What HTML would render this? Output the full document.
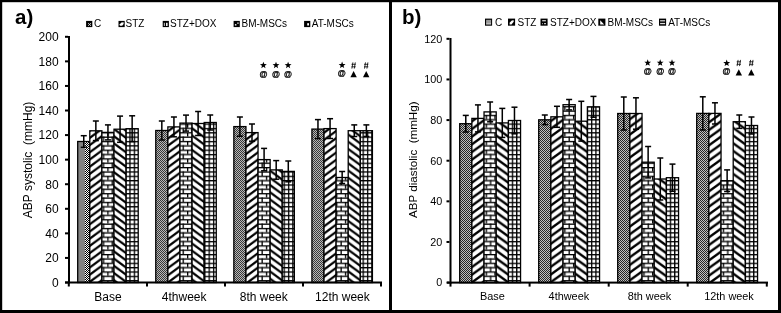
<!DOCTYPE html><html><head><meta charset="utf-8"><style>html,body{margin:0;padding:0;background:#fff;}svg{display:block;filter:grayscale(1);}text{font-family:"Liberation Sans", sans-serif;}</style></head><body>
<svg width="781" height="313" viewBox="0 0 781 313">

<defs>
<pattern id="chk" x="0" y="0" width="2" height="2" patternUnits="userSpaceOnUse">
  <rect width="2" height="2" fill="#fff"/><rect width="1" height="1" fill="#000"/><rect x="1" y="1" width="1" height="1" fill="#000"/>
</pattern>
<pattern id="chk3" x="0" y="0" width="2" height="2" patternUnits="userSpaceOnUse">
  <rect width="2" height="2" fill="#c0c0c0"/><rect width="1" height="1" fill="#262626"/><rect x="1" y="1" width="1" height="1" fill="#262626"/>
</pattern>
<pattern id="chk2" x="0" y="0" width="2" height="2" patternUnits="userSpaceOnUse">
  <rect width="2" height="2" fill="#b8b8b8"/><rect width="1" height="1" fill="#383838"/><rect x="1" y="1" width="1" height="1" fill="#383838"/>
</pattern>
<pattern id="up" x="0" y="0" width="8.5" height="7.2" patternUnits="userSpaceOnUse">
  <rect width="8.5" height="7.2" fill="#fff"/>
  <polygon points="0.00,0.00 8.50,-7.20 8.50,-4.30 0.00,2.90" fill="#000"/><polygon points="0.00,7.20 8.50,0.00 8.50,2.90 0.00,10.10" fill="#000"/>
</pattern>
<pattern id="dn" x="0" y="0" width="8.5" height="7.2" patternUnits="userSpaceOnUse">
  <rect width="8.5" height="7.2" fill="#fff"/>
  <polygon points="0.00,-7.20 8.50,0.00 8.50,2.90 0.00,-4.30" fill="#000"/><polygon points="0.00,0.00 8.50,7.20 8.50,10.10 0.00,2.90" fill="#000"/>
</pattern>
<pattern id="brick" x="0" y="0" width="8.7" height="8.7" patternUnits="userSpaceOnUse">
  <rect width="8.7" height="8.7" fill="#fff"/>
  <rect x="0" y="0" width="8.7" height="1.3" fill="#000"/>
  <rect x="0" y="4.35" width="8.7" height="1.3" fill="#000"/>
  <rect x="0" y="0" width="1.3" height="4.35" fill="#000"/>
  <rect x="4.35" y="4.35" width="1.3" height="4.35" fill="#000"/>
</pattern>
<pattern id="grid" x="0" y="0" width="4.35" height="4.35" patternUnits="userSpaceOnUse">
  <rect width="4.35" height="4.35" fill="#fff"/>
  <rect x="0" y="0" width="4.35" height="1.3" fill="#000"/>
  <rect x="0" y="0" width="1.3" height="4.35" fill="#000"/>
</pattern>
</defs>

<rect width="781" height="313" fill="#fff"/>
<defs><pattern id="up00" x="95.850" y="198.200" width="9.7035" height="7.2000" patternUnits="userSpaceOnUse"><rect width="9.7035" height="7.2000" fill="#fff"/><polygon points="0.00,-1.38 9.70,-8.57 9.70,-5.83 0.00,1.37" fill="#000"/><polygon points="0.00,5.83 9.70,-1.38 9.70,1.38 0.00,8.57" fill="#000"/><polygon points="0.00,13.03 9.70,5.83 9.70,8.57 0.00,15.77" fill="#000"/></pattern><pattern id="dn00" x="120.050" y="205.500" width="9.7035" height="7.2000" patternUnits="userSpaceOnUse"><rect width="9.7035" height="7.2000" fill="#fff"/><polygon points="0.00,-8.57 9.70,-1.38 9.70,1.37 0.00,-5.83" fill="#000"/><polygon points="0.00,-1.38 9.70,5.83 9.70,8.57 0.00,1.38" fill="#000"/><polygon points="0.00,5.83 9.70,13.03 9.70,15.77 0.00,8.57" fill="#000"/></pattern><pattern id="br00" x="107.300" y="1.7" width="8.7" height="8.7" patternUnits="userSpaceOnUse"><rect width="8.7" height="8.7" fill="#fff"/><rect x="0" y="0" width="8.7" height="1.3" fill="#000"/><rect x="0" y="4.35" width="8.7" height="1.3" fill="#000"/><rect x="0" y="0" width="1.3" height="4.35" fill="#000"/><rect x="4.35" y="4.35" width="1.3" height="4.35" fill="#000"/></pattern><pattern id="gr00" x="129.350" y="1.7" width="4.35" height="4.35" patternUnits="userSpaceOnUse"><rect width="4.35" height="4.35" fill="#fff"/><rect x="0" y="0" width="4.35" height="1.3" fill="#000"/><rect x="0" y="0" width="1.3" height="4.35" fill="#000"/></pattern><pattern id="up01" x="173.920" y="198.900" width="9.7035" height="7.2000" patternUnits="userSpaceOnUse"><rect width="9.7035" height="7.2000" fill="#fff"/><polygon points="0.00,-1.38 9.70,-8.57 9.70,-5.83 0.00,1.37" fill="#000"/><polygon points="0.00,5.83 9.70,-1.38 9.70,1.38 0.00,8.57" fill="#000"/><polygon points="0.00,13.03 9.70,5.83 9.70,8.57 0.00,15.77" fill="#000"/></pattern><pattern id="dn01" x="198.120" y="204.800" width="9.7035" height="7.2000" patternUnits="userSpaceOnUse"><rect width="9.7035" height="7.2000" fill="#fff"/><polygon points="0.00,-8.57 9.70,-1.38 9.70,1.37 0.00,-5.83" fill="#000"/><polygon points="0.00,-1.38 9.70,5.83 9.70,8.57 0.00,1.38" fill="#000"/><polygon points="0.00,5.83 9.70,13.03 9.70,15.77 0.00,8.57" fill="#000"/></pattern><pattern id="br01" x="187.000" y="1.7" width="8.7" height="8.7" patternUnits="userSpaceOnUse"><rect width="8.7" height="8.7" fill="#fff"/><rect x="0" y="0" width="8.7" height="1.3" fill="#000"/><rect x="0" y="4.35" width="8.7" height="1.3" fill="#000"/><rect x="0" y="0" width="1.3" height="4.35" fill="#000"/><rect x="4.35" y="4.35" width="1.3" height="4.35" fill="#000"/></pattern><pattern id="gr01" x="208.550" y="1.7" width="4.35" height="4.35" patternUnits="userSpaceOnUse"><rect width="4.35" height="4.35" fill="#fff"/><rect x="0" y="0" width="4.35" height="1.3" fill="#000"/><rect x="0" y="0" width="1.3" height="4.35" fill="#000"/></pattern><pattern id="up02" x="251.990" y="200.000" width="9.7035" height="7.2000" patternUnits="userSpaceOnUse"><rect width="9.7035" height="7.2000" fill="#fff"/><polygon points="0.00,-1.38 9.70,-8.57 9.70,-5.83 0.00,1.37" fill="#000"/><polygon points="0.00,5.83 9.70,-1.38 9.70,1.38 0.00,8.57" fill="#000"/><polygon points="0.00,13.03 9.70,5.83 9.70,8.57 0.00,15.77" fill="#000"/></pattern><pattern id="dn02" x="276.190" y="204.000" width="9.7035" height="7.2000" patternUnits="userSpaceOnUse"><rect width="9.7035" height="7.2000" fill="#fff"/><polygon points="0.00,-8.57 9.70,-1.38 9.70,1.37 0.00,-5.83" fill="#000"/><polygon points="0.00,-1.38 9.70,5.83 9.70,8.57 0.00,1.38" fill="#000"/><polygon points="0.00,5.83 9.70,13.03 9.70,15.77 0.00,8.57" fill="#000"/></pattern><pattern id="br02" x="265.850" y="1.7" width="8.7" height="8.7" patternUnits="userSpaceOnUse"><rect width="8.7" height="8.7" fill="#fff"/><rect x="0" y="0" width="8.7" height="1.3" fill="#000"/><rect x="0" y="4.35" width="8.7" height="1.3" fill="#000"/><rect x="0" y="0" width="1.3" height="4.35" fill="#000"/><rect x="4.35" y="4.35" width="1.3" height="4.35" fill="#000"/></pattern><pattern id="gr02" x="283.550" y="1.7" width="4.35" height="4.35" patternUnits="userSpaceOnUse"><rect width="4.35" height="4.35" fill="#fff"/><rect x="0" y="0" width="4.35" height="1.3" fill="#000"/><rect x="0" y="0" width="1.3" height="4.35" fill="#000"/></pattern><pattern id="up03" x="330.060" y="200.300" width="9.7035" height="7.2000" patternUnits="userSpaceOnUse"><rect width="9.7035" height="7.2000" fill="#fff"/><polygon points="0.00,-1.38 9.70,-8.57 9.70,-5.83 0.00,1.37" fill="#000"/><polygon points="0.00,5.83 9.70,-1.38 9.70,1.38 0.00,8.57" fill="#000"/><polygon points="0.00,13.03 9.70,5.83 9.70,8.57 0.00,15.77" fill="#000"/></pattern><pattern id="dn03" x="354.260" y="203.800" width="9.7035" height="7.2000" patternUnits="userSpaceOnUse"><rect width="9.7035" height="7.2000" fill="#fff"/><polygon points="0.00,-8.57 9.70,-1.38 9.70,1.37 0.00,-5.83" fill="#000"/><polygon points="0.00,-1.38 9.70,5.83 9.70,8.57 0.00,1.38" fill="#000"/><polygon points="0.00,5.83 9.70,13.03 9.70,15.77 0.00,8.57" fill="#000"/></pattern><pattern id="br03" x="344.850" y="1.7" width="8.7" height="8.7" patternUnits="userSpaceOnUse"><rect width="8.7" height="8.7" fill="#fff"/><rect x="0" y="0" width="8.7" height="1.3" fill="#000"/><rect x="0" y="4.35" width="8.7" height="1.3" fill="#000"/><rect x="0" y="0" width="1.3" height="4.35" fill="#000"/><rect x="4.35" y="4.35" width="1.3" height="4.35" fill="#000"/></pattern><pattern id="gr03" x="362.550" y="1.7" width="4.35" height="4.35" patternUnits="userSpaceOnUse"><rect width="4.35" height="4.35" fill="#fff"/><rect x="0" y="0" width="4.35" height="1.3" fill="#000"/><rect x="0" y="0" width="1.3" height="4.35" fill="#000"/></pattern><pattern id="up10" x="477.955" y="201.330" width="10.5068" height="7.6700" patternUnits="userSpaceOnUse"><rect width="10.5068" height="7.6700" fill="#fff"/><polygon points="0.00,-1.47 10.51,-9.14 10.51,-6.20 0.00,1.47" fill="#000"/><polygon points="0.00,6.20 10.51,-1.48 10.51,1.48 0.00,9.14" fill="#000"/><polygon points="0.00,13.87 10.51,6.20 10.51,9.14 0.00,16.81" fill="#000"/></pattern><pattern id="dn10" x="502.295" y="209.000" width="10.5068" height="7.6700" patternUnits="userSpaceOnUse"><rect width="10.5068" height="7.6700" fill="#fff"/><polygon points="0.00,-9.14 10.51,-1.47 10.51,1.47 0.00,-6.20" fill="#000"/><polygon points="0.00,-1.48 10.51,6.20 10.51,9.14 0.00,1.48" fill="#000"/><polygon points="0.00,6.20 10.51,13.87 10.51,16.81 0.00,9.14" fill="#000"/></pattern><pattern id="br10" x="485.650" y="1.7" width="8.7" height="8.7" patternUnits="userSpaceOnUse"><rect width="8.7" height="8.7" fill="#fff"/><rect x="0" y="0" width="8.7" height="1.3" fill="#000"/><rect x="0" y="4.35" width="8.7" height="1.3" fill="#000"/><rect x="0" y="0" width="1.3" height="4.35" fill="#000"/><rect x="4.35" y="4.35" width="1.3" height="4.35" fill="#000"/></pattern><pattern id="gr10" x="511.750" y="1.7" width="4.35" height="4.35" patternUnits="userSpaceOnUse"><rect width="4.35" height="4.35" fill="#fff"/><rect x="0" y="0" width="4.35" height="1.3" fill="#000"/><rect x="0" y="0" width="1.3" height="4.35" fill="#000"/></pattern><pattern id="up11" x="556.955" y="201.030" width="10.5068" height="7.6700" patternUnits="userSpaceOnUse"><rect width="10.5068" height="7.6700" fill="#fff"/><polygon points="0.00,-1.47 10.51,-9.14 10.51,-6.20 0.00,1.47" fill="#000"/><polygon points="0.00,6.20 10.51,-1.48 10.51,1.48 0.00,9.14" fill="#000"/><polygon points="0.00,13.87 10.51,6.20 10.51,9.14 0.00,16.81" fill="#000"/></pattern><pattern id="dn11" x="581.295" y="209.000" width="10.5068" height="7.6700" patternUnits="userSpaceOnUse"><rect width="10.5068" height="7.6700" fill="#fff"/><polygon points="0.00,-9.14 10.51,-1.47 10.51,1.47 0.00,-6.20" fill="#000"/><polygon points="0.00,-1.48 10.51,6.20 10.51,9.14 0.00,1.48" fill="#000"/><polygon points="0.00,6.20 10.51,13.87 10.51,16.81 0.00,9.14" fill="#000"/></pattern><pattern id="br11" x="564.250" y="1.7" width="8.7" height="8.7" patternUnits="userSpaceOnUse"><rect width="8.7" height="8.7" fill="#fff"/><rect x="0" y="0" width="8.7" height="1.3" fill="#000"/><rect x="0" y="4.35" width="8.7" height="1.3" fill="#000"/><rect x="0" y="0" width="1.3" height="4.35" fill="#000"/><rect x="4.35" y="4.35" width="1.3" height="4.35" fill="#000"/></pattern><pattern id="gr11" x="590.950" y="1.7" width="4.35" height="4.35" patternUnits="userSpaceOnUse"><rect width="4.35" height="4.35" fill="#fff"/><rect x="0" y="0" width="4.35" height="1.3" fill="#000"/><rect x="0" y="0" width="1.3" height="4.35" fill="#000"/></pattern><pattern id="up12" x="635.955" y="199.130" width="10.5068" height="7.6700" patternUnits="userSpaceOnUse"><rect width="10.5068" height="7.6700" fill="#fff"/><polygon points="0.00,-1.47 10.51,-9.14 10.51,-6.20 0.00,1.47" fill="#000"/><polygon points="0.00,6.20 10.51,-1.48 10.51,1.48 0.00,9.14" fill="#000"/><polygon points="0.00,13.87 10.51,6.20 10.51,9.14 0.00,16.81" fill="#000"/></pattern><pattern id="dn12" x="660.295" y="210.400" width="10.5068" height="7.6700" patternUnits="userSpaceOnUse"><rect width="10.5068" height="7.6700" fill="#fff"/><polygon points="0.00,-9.14 10.51,-1.47 10.51,1.47 0.00,-6.20" fill="#000"/><polygon points="0.00,-1.48 10.51,6.20 10.51,9.14 0.00,1.48" fill="#000"/><polygon points="0.00,6.20 10.51,13.87 10.51,16.81 0.00,9.14" fill="#000"/></pattern><pattern id="br12" x="643.350" y="1.7" width="8.7" height="8.7" patternUnits="userSpaceOnUse"><rect width="8.7" height="8.7" fill="#fff"/><rect x="0" y="0" width="8.7" height="1.3" fill="#000"/><rect x="0" y="4.35" width="8.7" height="1.3" fill="#000"/><rect x="0" y="0" width="1.3" height="4.35" fill="#000"/><rect x="4.35" y="4.35" width="1.3" height="4.35" fill="#000"/></pattern><pattern id="gr12" x="669.750" y="1.7" width="4.35" height="4.35" patternUnits="userSpaceOnUse"><rect width="4.35" height="4.35" fill="#fff"/><rect x="0" y="0" width="4.35" height="1.3" fill="#000"/><rect x="0" y="0" width="1.3" height="4.35" fill="#000"/></pattern><pattern id="up13" x="714.955" y="202.330" width="10.5068" height="7.6700" patternUnits="userSpaceOnUse"><rect width="10.5068" height="7.6700" fill="#fff"/><polygon points="0.00,-1.47 10.51,-9.14 10.51,-6.20 0.00,1.47" fill="#000"/><polygon points="0.00,6.20 10.51,-1.48 10.51,1.48 0.00,9.14" fill="#000"/><polygon points="0.00,13.87 10.51,6.20 10.51,9.14 0.00,16.81" fill="#000"/></pattern><pattern id="dn13" x="739.295" y="209.000" width="10.5068" height="7.6700" patternUnits="userSpaceOnUse"><rect width="10.5068" height="7.6700" fill="#fff"/><polygon points="0.00,-9.14 10.51,-1.47 10.51,1.47 0.00,-6.20" fill="#000"/><polygon points="0.00,-1.48 10.51,6.20 10.51,9.14 0.00,1.48" fill="#000"/><polygon points="0.00,6.20 10.51,13.87 10.51,16.81 0.00,9.14" fill="#000"/></pattern><pattern id="br13" x="722.750" y="1.7" width="8.7" height="8.7" patternUnits="userSpaceOnUse"><rect width="8.7" height="8.7" fill="#fff"/><rect x="0" y="0" width="8.7" height="1.3" fill="#000"/><rect x="0" y="4.35" width="8.7" height="1.3" fill="#000"/><rect x="0" y="0" width="1.3" height="4.35" fill="#000"/><rect x="4.35" y="4.35" width="1.3" height="4.35" fill="#000"/></pattern><pattern id="gr13" x="748.750" y="1.7" width="4.35" height="4.35" patternUnits="userSpaceOnUse"><rect width="4.35" height="4.35" fill="#fff"/><rect x="0" y="0" width="4.35" height="1.3" fill="#000"/><rect x="0" y="0" width="1.3" height="4.35" fill="#000"/></pattern></defs>
<rect x="77.70" y="141.50" width="12.10" height="141.00" fill="#828282"/>
<rect x="85.00" y="141.50" width="4.80" height="141.00" fill="url(#chk)"/>
<rect x="77.70" y="141.50" width="12.10" height="141.00" fill="none" stroke="#000" stroke-width="1.3"/>
<rect x="89.80" y="130.80" width="12.10" height="151.70" fill="url(#up00)"/>
<rect x="89.80" y="130.80" width="12.10" height="151.70" fill="none" stroke="#000" stroke-width="1.3"/>
<rect x="101.90" y="132.40" width="12.10" height="150.10" fill="url(#br00)"/>
<rect x="101.90" y="132.40" width="12.10" height="150.10" fill="none" stroke="#000" stroke-width="1.3"/>
<rect x="114.00" y="129.20" width="12.10" height="153.30" fill="url(#dn00)"/>
<rect x="114.00" y="129.20" width="12.10" height="153.30" fill="none" stroke="#000" stroke-width="1.3"/>
<rect x="126.10" y="128.70" width="12.10" height="153.80" fill="url(#gr00)"/>
<rect x="126.10" y="128.70" width="12.10" height="153.80" fill="none" stroke="#000" stroke-width="1.3"/>
<rect x="155.77" y="130.50" width="12.10" height="152.00" fill="url(#chk2)"/>
<rect x="155.77" y="130.50" width="12.10" height="152.00" fill="none" stroke="#000" stroke-width="1.3"/>
<rect x="167.87" y="126.90" width="12.10" height="155.60" fill="url(#up01)"/>
<rect x="167.87" y="126.90" width="12.10" height="155.60" fill="none" stroke="#000" stroke-width="1.3"/>
<rect x="179.97" y="123.10" width="12.10" height="159.40" fill="url(#br01)"/>
<rect x="179.97" y="123.10" width="12.10" height="159.40" fill="none" stroke="#000" stroke-width="1.3"/>
<rect x="192.07" y="123.50" width="12.10" height="159.00" fill="url(#dn01)"/>
<rect x="192.07" y="123.50" width="12.10" height="159.00" fill="none" stroke="#000" stroke-width="1.3"/>
<rect x="204.17" y="122.50" width="12.10" height="160.00" fill="url(#gr01)"/>
<rect x="204.17" y="122.50" width="12.10" height="160.00" fill="none" stroke="#000" stroke-width="1.3"/>
<rect x="233.84" y="126.60" width="12.10" height="155.90" fill="url(#chk2)"/>
<rect x="233.84" y="126.60" width="12.10" height="155.90" fill="none" stroke="#000" stroke-width="1.3"/>
<rect x="245.94" y="132.60" width="12.10" height="149.90" fill="url(#up02)"/>
<rect x="245.94" y="132.60" width="12.10" height="149.90" fill="none" stroke="#000" stroke-width="1.3"/>
<rect x="258.04" y="159.60" width="12.10" height="122.90" fill="url(#br02)"/>
<rect x="258.04" y="159.60" width="12.10" height="122.90" fill="none" stroke="#000" stroke-width="1.3"/>
<rect x="270.14" y="169.90" width="12.10" height="112.60" fill="url(#dn02)"/>
<rect x="270.14" y="169.90" width="12.10" height="112.60" fill="none" stroke="#000" stroke-width="1.3"/>
<rect x="282.24" y="171.40" width="12.10" height="111.10" fill="url(#gr02)"/>
<rect x="282.24" y="171.40" width="12.10" height="111.10" fill="none" stroke="#000" stroke-width="1.3"/>
<rect x="311.91" y="129.10" width="12.10" height="153.40" fill="url(#chk2)"/>
<rect x="311.91" y="129.10" width="12.10" height="153.40" fill="none" stroke="#000" stroke-width="1.3"/>
<rect x="324.01" y="128.60" width="12.10" height="153.90" fill="url(#up03)"/>
<rect x="324.01" y="128.60" width="12.10" height="153.90" fill="none" stroke="#000" stroke-width="1.3"/>
<rect x="336.11" y="177.50" width="12.10" height="105.00" fill="url(#br03)"/>
<rect x="336.11" y="177.50" width="12.10" height="105.00" fill="none" stroke="#000" stroke-width="1.3"/>
<rect x="348.21" y="130.70" width="12.10" height="151.80" fill="url(#dn03)"/>
<rect x="348.21" y="130.70" width="12.10" height="151.80" fill="none" stroke="#000" stroke-width="1.3"/>
<rect x="360.31" y="130.70" width="12.10" height="151.80" fill="url(#gr03)"/>
<rect x="360.31" y="130.70" width="12.10" height="151.80" fill="none" stroke="#000" stroke-width="1.3"/>
<rect x="83.00" y="135.70" width="1.5" height="11.60" fill="#000"/>
<rect x="80.75" y="134.95" width="6" height="1.5" fill="#000"/>
<rect x="80.75" y="146.55" width="6" height="1.5" fill="#000"/>
<rect x="95.10" y="121.00" width="1.5" height="19.60" fill="#000"/>
<rect x="92.85" y="120.25" width="6" height="1.5" fill="#000"/>
<rect x="92.85" y="139.85" width="6" height="1.5" fill="#000"/>
<rect x="107.20" y="124.90" width="1.5" height="15.00" fill="#000"/>
<rect x="104.95" y="124.15" width="6" height="1.5" fill="#000"/>
<rect x="104.95" y="139.15" width="6" height="1.5" fill="#000"/>
<rect x="119.30" y="116.10" width="1.5" height="26.20" fill="#000"/>
<rect x="117.05" y="115.35" width="6" height="1.5" fill="#000"/>
<rect x="117.05" y="141.55" width="6" height="1.5" fill="#000"/>
<rect x="131.40" y="115.80" width="1.5" height="25.80" fill="#000"/>
<rect x="129.15" y="115.05" width="6" height="1.5" fill="#000"/>
<rect x="129.15" y="140.85" width="6" height="1.5" fill="#000"/>
<rect x="161.07" y="121.00" width="1.5" height="19.00" fill="#000"/>
<rect x="158.82" y="120.25" width="6" height="1.5" fill="#000"/>
<rect x="158.82" y="139.25" width="6" height="1.5" fill="#000"/>
<rect x="173.17" y="117.00" width="1.5" height="19.80" fill="#000"/>
<rect x="170.92" y="116.25" width="6" height="1.5" fill="#000"/>
<rect x="170.92" y="136.05" width="6" height="1.5" fill="#000"/>
<rect x="185.27" y="115.10" width="1.5" height="16.00" fill="#000"/>
<rect x="183.02" y="114.35" width="6" height="1.5" fill="#000"/>
<rect x="183.02" y="130.35" width="6" height="1.5" fill="#000"/>
<rect x="197.37" y="111.50" width="1.5" height="24.00" fill="#000"/>
<rect x="195.12" y="110.75" width="6" height="1.5" fill="#000"/>
<rect x="195.12" y="134.75" width="6" height="1.5" fill="#000"/>
<rect x="209.47" y="115.00" width="1.5" height="15.00" fill="#000"/>
<rect x="207.22" y="114.25" width="6" height="1.5" fill="#000"/>
<rect x="207.22" y="129.25" width="6" height="1.5" fill="#000"/>
<rect x="239.14" y="117.00" width="1.5" height="19.20" fill="#000"/>
<rect x="236.89" y="116.25" width="6" height="1.5" fill="#000"/>
<rect x="236.89" y="135.45" width="6" height="1.5" fill="#000"/>
<rect x="251.24" y="124.00" width="1.5" height="17.20" fill="#000"/>
<rect x="248.99" y="123.25" width="6" height="1.5" fill="#000"/>
<rect x="248.99" y="140.45" width="6" height="1.5" fill="#000"/>
<rect x="263.34" y="148.40" width="1.5" height="22.40" fill="#000"/>
<rect x="261.09" y="147.65" width="6" height="1.5" fill="#000"/>
<rect x="261.09" y="170.05" width="6" height="1.5" fill="#000"/>
<rect x="275.44" y="160.60" width="1.5" height="18.60" fill="#000"/>
<rect x="273.19" y="159.85" width="6" height="1.5" fill="#000"/>
<rect x="273.19" y="178.45" width="6" height="1.5" fill="#000"/>
<rect x="287.54" y="161.00" width="1.5" height="20.80" fill="#000"/>
<rect x="285.29" y="160.25" width="6" height="1.5" fill="#000"/>
<rect x="285.29" y="181.05" width="6" height="1.5" fill="#000"/>
<rect x="317.21" y="119.60" width="1.5" height="19.00" fill="#000"/>
<rect x="314.96" y="118.85" width="6" height="1.5" fill="#000"/>
<rect x="314.96" y="137.85" width="6" height="1.5" fill="#000"/>
<rect x="329.31" y="118.70" width="1.5" height="19.80" fill="#000"/>
<rect x="327.06" y="117.95" width="6" height="1.5" fill="#000"/>
<rect x="327.06" y="137.75" width="6" height="1.5" fill="#000"/>
<rect x="341.41" y="171.50" width="1.5" height="12.00" fill="#000"/>
<rect x="339.16" y="170.75" width="6" height="1.5" fill="#000"/>
<rect x="339.16" y="182.75" width="6" height="1.5" fill="#000"/>
<rect x="353.51" y="124.90" width="1.5" height="11.60" fill="#000"/>
<rect x="351.26" y="124.15" width="6" height="1.5" fill="#000"/>
<rect x="351.26" y="135.75" width="6" height="1.5" fill="#000"/>
<rect x="365.61" y="124.90" width="1.5" height="11.60" fill="#000"/>
<rect x="363.36" y="124.15" width="6" height="1.5" fill="#000"/>
<rect x="363.36" y="135.75" width="6" height="1.5" fill="#000"/>
<rect x="68.00" y="36.00" width="2" height="247.50" fill="#000"/>
<rect x="65.00" y="281.50" width="317.00" height="2" fill="#000"/>
<rect x="65.00" y="281.50" width="3.00" height="2" fill="#000"/>
<text x="58.60" y="286.80" font-size="12.00" text-anchor="end">0</text>
<rect x="65.00" y="256.93" width="3.00" height="2" fill="#000"/>
<text x="58.60" y="262.23" font-size="12.00" text-anchor="end">20</text>
<rect x="65.00" y="232.36" width="3.00" height="2" fill="#000"/>
<text x="58.60" y="237.66" font-size="12.00" text-anchor="end">40</text>
<rect x="65.00" y="207.79" width="3.00" height="2" fill="#000"/>
<text x="58.60" y="213.09" font-size="12.00" text-anchor="end">60</text>
<rect x="65.00" y="183.22" width="3.00" height="2" fill="#000"/>
<text x="58.60" y="188.52" font-size="12.00" text-anchor="end">80</text>
<rect x="65.00" y="158.65" width="3.00" height="2" fill="#000"/>
<text x="58.60" y="163.95" font-size="12.00" text-anchor="end">100</text>
<rect x="65.00" y="134.08" width="3.00" height="2" fill="#000"/>
<text x="58.60" y="139.38" font-size="12.00" text-anchor="end">120</text>
<rect x="65.00" y="109.51" width="3.00" height="2" fill="#000"/>
<text x="58.60" y="114.81" font-size="12.00" text-anchor="end">140</text>
<rect x="65.00" y="84.94" width="3.00" height="2" fill="#000"/>
<text x="58.60" y="90.24" font-size="12.00" text-anchor="end">160</text>
<rect x="65.00" y="60.37" width="3.00" height="2" fill="#000"/>
<text x="58.60" y="65.67" font-size="12.00" text-anchor="end">180</text>
<rect x="65.00" y="35.80" width="3.00" height="2" fill="#000"/>
<text x="58.60" y="41.10" font-size="12.00" text-anchor="end">200</text>
<rect x="67.80" y="282.50" width="2" height="4" fill="#000"/>
<rect x="146.00" y="282.50" width="2" height="4" fill="#000"/>
<rect x="224.00" y="282.50" width="2" height="4" fill="#000"/>
<rect x="302.00" y="282.50" width="2" height="4" fill="#000"/>
<rect x="380.00" y="282.50" width="2" height="4" fill="#000"/>
<text x="107.95" y="301.20" font-size="12.00" text-anchor="middle">Base</text>
<text x="184.15" y="301.20" font-size="12.00" text-anchor="middle">4thweek</text>
<text x="263.75" y="301.20" font-size="12.00" text-anchor="middle">8th week</text>
<text x="342.45" y="301.20" font-size="12.00" text-anchor="middle">12th week</text>
<text transform="translate(32.40,159.90) rotate(-90)" font-size="12.00" text-anchor="middle" style="white-space:pre">ABP systolic  (mmHg)</text>
<text x="15.00" y="24.40" font-size="20.5" font-weight="bold">a)</text>
<rect x="86.10" y="20.90" width="6.20" height="6.20" fill="#000"/>
<rect x="88.10" y="23.10" width="1.00" height="1.00" fill="#ccc"/><rect x="90.00" y="23.10" width="1.00" height="1.00" fill="#ccc"/><rect x="89.10" y="24.00" width="1.00" height="1.00" fill="#eee"/><rect x="88.10" y="25.00" width="1.00" height="1.00" fill="#bbb"/><rect x="90.00" y="25.00" width="1.00" height="1.00" fill="#bbb"/>
<text x="94.00" y="27.00" font-size="10">C</text>
<rect x="118.50" y="20.90" width="6.20" height="6.20" fill="#000"/>
<polygon points="119.80,25.70 119.80,24.30 121.40,22.50 123.60,22.20 123.60,24.00 122.20,25.70" fill="#fff"/>
<text x="125.50" y="27.00" font-size="10">STZ</text>
<rect x="162.70" y="20.90" width="6.20" height="6.20" fill="#000"/>
<rect x="163.80" y="22.80" width="1.20" height="3.20" fill="#aaa"/><rect x="166.00" y="22.80" width="1.60" height="3.20" fill="#eee"/>
<text x="170.00" y="27.00" font-size="10">STZ+DOX</text>
<rect x="233.60" y="20.90" width="6.20" height="6.20" fill="#000"/>
<rect x="234.90" y="24.00" width="1.50" height="1.60" fill="#ddd"/><rect x="237.20" y="22.40" width="1.50" height="1.50" fill="#bbb"/>
<text x="241.50" y="27.00" font-size="10">BM-MSCs</text>
<rect x="304.10" y="20.90" width="6.20" height="6.20" fill="#000"/>
<rect x="307.20" y="23.20" width="1.80" height="2.30" fill="#fff"/>
<text x="311.80" y="27.00" font-size="10">AT-MSCs</text>
<rect x="459.70" y="123.70" width="12.17" height="158.90" fill="url(#chk3)"/>
<rect x="459.70" y="123.70" width="12.17" height="158.90" fill="none" stroke="#000" stroke-width="1.3"/>
<rect x="471.87" y="118.40" width="12.17" height="164.20" fill="url(#up10)"/>
<rect x="471.87" y="118.40" width="12.17" height="164.20" fill="none" stroke="#000" stroke-width="1.3"/>
<rect x="484.04" y="111.90" width="12.17" height="170.70" fill="url(#br10)"/>
<rect x="484.04" y="111.90" width="12.17" height="170.70" fill="none" stroke="#000" stroke-width="1.3"/>
<rect x="496.21" y="122.90" width="12.17" height="159.70" fill="url(#dn10)"/>
<rect x="496.21" y="122.90" width="12.17" height="159.70" fill="none" stroke="#000" stroke-width="1.3"/>
<rect x="508.38" y="120.50" width="12.17" height="162.10" fill="url(#gr10)"/>
<rect x="508.38" y="120.50" width="12.17" height="162.10" fill="none" stroke="#000" stroke-width="1.3"/>
<rect x="538.70" y="119.80" width="12.17" height="162.80" fill="url(#chk3)"/>
<rect x="538.70" y="119.80" width="12.17" height="162.80" fill="none" stroke="#000" stroke-width="1.3"/>
<rect x="550.87" y="116.80" width="12.17" height="165.80" fill="url(#up11)"/>
<rect x="550.87" y="116.80" width="12.17" height="165.80" fill="none" stroke="#000" stroke-width="1.3"/>
<rect x="563.04" y="104.70" width="12.17" height="177.90" fill="url(#br11)"/>
<rect x="563.04" y="104.70" width="12.17" height="177.90" fill="none" stroke="#000" stroke-width="1.3"/>
<rect x="575.21" y="121.20" width="12.17" height="161.40" fill="url(#dn11)"/>
<rect x="575.21" y="121.20" width="12.17" height="161.40" fill="none" stroke="#000" stroke-width="1.3"/>
<rect x="587.38" y="106.80" width="12.17" height="175.80" fill="url(#gr11)"/>
<rect x="587.38" y="106.80" width="12.17" height="175.80" fill="none" stroke="#000" stroke-width="1.3"/>
<rect x="617.70" y="113.50" width="12.17" height="169.10" fill="url(#chk3)"/>
<rect x="617.70" y="113.50" width="12.17" height="169.10" fill="none" stroke="#000" stroke-width="1.3"/>
<rect x="629.87" y="113.50" width="12.17" height="169.10" fill="url(#up12)"/>
<rect x="629.87" y="113.50" width="12.17" height="169.10" fill="none" stroke="#000" stroke-width="1.3"/>
<rect x="642.04" y="162.20" width="12.17" height="120.40" fill="url(#br12)"/>
<rect x="642.04" y="162.20" width="12.17" height="120.40" fill="none" stroke="#000" stroke-width="1.3"/>
<rect x="654.21" y="179.00" width="12.17" height="103.60" fill="url(#dn12)"/>
<rect x="654.21" y="179.00" width="12.17" height="103.60" fill="none" stroke="#000" stroke-width="1.3"/>
<rect x="666.38" y="177.70" width="12.17" height="104.90" fill="url(#gr12)"/>
<rect x="666.38" y="177.70" width="12.17" height="104.90" fill="none" stroke="#000" stroke-width="1.3"/>
<rect x="696.70" y="113.40" width="12.17" height="169.20" fill="url(#chk3)"/>
<rect x="696.70" y="113.40" width="12.17" height="169.20" fill="none" stroke="#000" stroke-width="1.3"/>
<rect x="708.87" y="113.40" width="12.17" height="169.20" fill="url(#up13)"/>
<rect x="708.87" y="113.40" width="12.17" height="169.20" fill="none" stroke="#000" stroke-width="1.3"/>
<rect x="721.04" y="180.70" width="12.17" height="101.90" fill="url(#br13)"/>
<rect x="721.04" y="180.70" width="12.17" height="101.90" fill="none" stroke="#000" stroke-width="1.3"/>
<rect x="733.21" y="121.70" width="12.17" height="160.90" fill="url(#dn13)"/>
<rect x="733.21" y="121.70" width="12.17" height="160.90" fill="none" stroke="#000" stroke-width="1.3"/>
<rect x="745.38" y="125.50" width="12.17" height="157.10" fill="url(#gr13)"/>
<rect x="745.38" y="125.50" width="12.17" height="157.10" fill="none" stroke="#000" stroke-width="1.3"/>
<rect x="465.03" y="115.40" width="1.5" height="16.60" fill="#000"/>
<rect x="462.78" y="114.65" width="6" height="1.5" fill="#000"/>
<rect x="462.78" y="131.25" width="6" height="1.5" fill="#000"/>
<rect x="477.20" y="104.90" width="1.5" height="27.00" fill="#000"/>
<rect x="474.95" y="104.15" width="6" height="1.5" fill="#000"/>
<rect x="474.95" y="131.15" width="6" height="1.5" fill="#000"/>
<rect x="489.37" y="102.00" width="1.5" height="19.80" fill="#000"/>
<rect x="487.12" y="101.25" width="6" height="1.5" fill="#000"/>
<rect x="487.12" y="121.05" width="6" height="1.5" fill="#000"/>
<rect x="501.54" y="108.40" width="1.5" height="29.00" fill="#000"/>
<rect x="499.29" y="107.65" width="6" height="1.5" fill="#000"/>
<rect x="499.29" y="136.65" width="6" height="1.5" fill="#000"/>
<rect x="513.72" y="107.20" width="1.5" height="26.60" fill="#000"/>
<rect x="511.47" y="106.45" width="6" height="1.5" fill="#000"/>
<rect x="511.47" y="133.05" width="6" height="1.5" fill="#000"/>
<rect x="544.04" y="115.00" width="1.5" height="9.60" fill="#000"/>
<rect x="541.79" y="114.25" width="6" height="1.5" fill="#000"/>
<rect x="541.79" y="123.85" width="6" height="1.5" fill="#000"/>
<rect x="556.21" y="106.30" width="1.5" height="21.00" fill="#000"/>
<rect x="553.96" y="105.55" width="6" height="1.5" fill="#000"/>
<rect x="553.96" y="126.55" width="6" height="1.5" fill="#000"/>
<rect x="568.38" y="99.50" width="1.5" height="10.40" fill="#000"/>
<rect x="566.13" y="98.75" width="6" height="1.5" fill="#000"/>
<rect x="566.13" y="109.15" width="6" height="1.5" fill="#000"/>
<rect x="580.55" y="101.30" width="1.5" height="39.80" fill="#000"/>
<rect x="578.30" y="100.55" width="6" height="1.5" fill="#000"/>
<rect x="578.30" y="140.35" width="6" height="1.5" fill="#000"/>
<rect x="592.72" y="96.40" width="1.5" height="20.80" fill="#000"/>
<rect x="590.47" y="95.65" width="6" height="1.5" fill="#000"/>
<rect x="590.47" y="116.45" width="6" height="1.5" fill="#000"/>
<rect x="623.04" y="97.00" width="1.5" height="33.00" fill="#000"/>
<rect x="620.79" y="96.25" width="6" height="1.5" fill="#000"/>
<rect x="620.79" y="129.25" width="6" height="1.5" fill="#000"/>
<rect x="635.21" y="97.80" width="1.5" height="31.40" fill="#000"/>
<rect x="632.96" y="97.05" width="6" height="1.5" fill="#000"/>
<rect x="632.96" y="128.45" width="6" height="1.5" fill="#000"/>
<rect x="647.38" y="146.50" width="1.5" height="31.40" fill="#000"/>
<rect x="645.13" y="145.75" width="6" height="1.5" fill="#000"/>
<rect x="645.13" y="177.15" width="6" height="1.5" fill="#000"/>
<rect x="659.55" y="158.00" width="1.5" height="42.00" fill="#000"/>
<rect x="657.30" y="157.25" width="6" height="1.5" fill="#000"/>
<rect x="657.30" y="199.25" width="6" height="1.5" fill="#000"/>
<rect x="671.72" y="164.10" width="1.5" height="27.20" fill="#000"/>
<rect x="669.47" y="163.35" width="6" height="1.5" fill="#000"/>
<rect x="669.47" y="190.55" width="6" height="1.5" fill="#000"/>
<rect x="702.04" y="96.80" width="1.5" height="33.20" fill="#000"/>
<rect x="699.79" y="96.05" width="6" height="1.5" fill="#000"/>
<rect x="699.79" y="129.25" width="6" height="1.5" fill="#000"/>
<rect x="714.21" y="102.80" width="1.5" height="21.20" fill="#000"/>
<rect x="711.96" y="102.05" width="6" height="1.5" fill="#000"/>
<rect x="711.96" y="123.25" width="6" height="1.5" fill="#000"/>
<rect x="726.38" y="169.90" width="1.5" height="21.60" fill="#000"/>
<rect x="724.13" y="169.15" width="6" height="1.5" fill="#000"/>
<rect x="724.13" y="190.75" width="6" height="1.5" fill="#000"/>
<rect x="738.55" y="115.00" width="1.5" height="13.40" fill="#000"/>
<rect x="736.30" y="114.25" width="6" height="1.5" fill="#000"/>
<rect x="736.30" y="127.65" width="6" height="1.5" fill="#000"/>
<rect x="750.72" y="117.00" width="1.5" height="17.00" fill="#000"/>
<rect x="748.47" y="116.25" width="6" height="1.5" fill="#000"/>
<rect x="748.47" y="133.25" width="6" height="1.5" fill="#000"/>
<rect x="449.50" y="38.00" width="2" height="245.60" fill="#000"/>
<rect x="447.00" y="281.60" width="321.00" height="2" fill="#000"/>
<rect x="446.50" y="281.60" width="3.00" height="2" fill="#000"/>
<text x="442.20" y="286.47" font-size="10.80" text-anchor="end">0</text>
<rect x="446.50" y="240.97" width="3.00" height="2" fill="#000"/>
<text x="442.20" y="245.84" font-size="10.80" text-anchor="end">20</text>
<rect x="446.50" y="200.34" width="3.00" height="2" fill="#000"/>
<text x="442.20" y="205.21" font-size="10.80" text-anchor="end">40</text>
<rect x="446.50" y="159.71" width="3.00" height="2" fill="#000"/>
<text x="442.20" y="164.58" font-size="10.80" text-anchor="end">60</text>
<rect x="446.50" y="119.08" width="3.00" height="2" fill="#000"/>
<text x="442.20" y="123.95" font-size="10.80" text-anchor="end">80</text>
<rect x="446.50" y="78.45" width="3.00" height="2" fill="#000"/>
<text x="442.20" y="83.32" font-size="10.80" text-anchor="end">100</text>
<rect x="446.50" y="37.82" width="3.00" height="2" fill="#000"/>
<text x="442.20" y="42.69" font-size="10.80" text-anchor="end">120</text>
<rect x="449.50" y="282.60" width="2" height="4" fill="#000"/>
<rect x="528.60" y="282.60" width="2" height="4" fill="#000"/>
<rect x="607.70" y="282.60" width="2" height="4" fill="#000"/>
<rect x="686.70" y="282.60" width="2" height="4" fill="#000"/>
<rect x="765.80" y="282.60" width="2" height="4" fill="#000"/>
<text x="492.30" y="300.40" font-size="10.90" text-anchor="middle">Base</text>
<text x="568.90" y="300.40" font-size="10.90" text-anchor="middle">4thweek</text>
<text x="649.50" y="300.40" font-size="10.90" text-anchor="middle">8th week</text>
<text x="729.00" y="300.40" font-size="10.90" text-anchor="middle">12th week</text>
<text transform="translate(417.20,159.70) rotate(-90)" font-size="11.60" text-anchor="middle" style="white-space:pre">ABP diastolic  (mmHg)</text>
<text x="402.00" y="24.00" font-size="20.5" font-weight="bold">b)</text>
<rect x="485.00" y="18.60" width="7.10" height="7.10" fill="#000"/>
<rect x="486.10" y="19.80" width="5.00" height="2.40" fill="#999"/><rect x="486.10" y="22.20" width="5.00" height="2.40" fill="#bbb"/>
<text x="495.00" y="25.60" font-size="10">C</text>
<rect x="508.00" y="18.60" width="7.10" height="7.10" fill="#000"/>
<polygon points="509.60,24.60 509.60,22.80 511.80,20.40 513.70,20.20 513.70,21.80 511.50,24.60" fill="#fff"/>
<text x="517.60" y="25.60" font-size="10">STZ</text>
<rect x="540.50" y="18.60" width="7.10" height="7.10" fill="#000"/>
<rect x="542.20" y="20.20" width="3.70" height="1.10" fill="#eee"/><rect x="542.00" y="23.10" width="0.80" height="1.10" fill="#ccc"/><rect x="544.10" y="23.10" width="1.80" height="1.10" fill="#eee"/>
<text x="550.10" y="25.60" font-size="10">STZ+DOX</text>
<rect x="598.30" y="18.60" width="7.10" height="7.10" fill="#000"/>
<polygon points="600.20,20.20 600.20,24.40 604.20,24.40 602.50,22.80" fill="#fff"/>
<text x="607.50" y="25.60" font-size="10">BM-MSCs</text>
<rect x="659.00" y="18.60" width="7.10" height="7.10" fill="#000"/>
<rect x="660.10" y="20.20" width="5.00" height="1.20" fill="#ddd"/><rect x="660.10" y="22.90" width="5.00" height="1.30" fill="#ddd"/>
<text x="668.20" y="25.60" font-size="10">AT-MSCs</text>
<polygon points="263.40,61.70 264.29,64.08 266.82,64.19 264.84,65.77 265.52,68.21 263.40,66.81 261.28,68.21 261.96,65.77 259.98,64.19 262.51,64.08" fill="#000"/>
<text x="263.40" y="76.82" font-size="8.2" text-anchor="middle" font-weight="bold" stroke="#000" stroke-width="0.25">@</text>
<polygon points="276.00,61.70 276.89,64.08 279.42,64.19 277.44,65.77 278.12,68.21 276.00,66.81 273.88,68.21 274.56,65.77 272.58,64.19 275.11,64.08" fill="#000"/>
<text x="276.00" y="76.82" font-size="8.2" text-anchor="middle" font-weight="bold" stroke="#000" stroke-width="0.25">@</text>
<polygon points="288.10,61.70 288.99,64.08 291.52,64.19 289.54,65.77 290.22,68.21 288.10,66.81 285.98,68.21 286.66,65.77 284.68,64.19 287.21,64.08" fill="#000"/>
<text x="288.10" y="76.82" font-size="8.2" text-anchor="middle" font-weight="bold" stroke="#000" stroke-width="0.25">@</text>
<polygon points="342.10,61.60 342.99,63.98 345.52,64.09 343.54,65.67 344.22,68.11 342.10,66.71 339.98,68.11 340.66,65.67 338.68,64.09 341.21,63.98" fill="#000"/>
<text x="341.70" y="76.02" font-size="8.2" text-anchor="middle" font-weight="bold" stroke="#000" stroke-width="0.25">@</text>
<path d="M351.90 68.60L352.90 62.40M354.30 68.60L355.30 62.40M351.50 64.30L355.70 64.30M351.50 66.80L355.70 66.80" stroke="#000" stroke-width="0.8" fill="none"/>
<polygon points="353.60,71.00 350.40,77.30 356.80,77.30" fill="#000"/>
<path d="M364.50 68.60L365.50 62.40M366.90 68.60L367.90 62.40M364.10 64.30L368.30 64.30M364.10 66.80L368.30 66.80" stroke="#000" stroke-width="0.8" fill="none"/>
<polygon points="366.20,71.00 363.00,77.30 369.40,77.30" fill="#000"/>
<polygon points="647.70,59.30 648.59,61.68 651.12,61.79 649.14,63.37 649.82,65.81 647.70,64.41 645.58,65.81 646.26,63.37 644.28,61.79 646.81,61.68" fill="#000"/>
<text x="647.70" y="74.12" font-size="8.2" text-anchor="middle" font-weight="bold" stroke="#000" stroke-width="0.25">@</text>
<polygon points="660.20,59.30 661.09,61.68 663.62,61.79 661.64,63.37 662.32,65.81 660.20,64.41 658.08,65.81 658.76,63.37 656.78,61.79 659.31,61.68" fill="#000"/>
<text x="660.20" y="74.12" font-size="8.2" text-anchor="middle" font-weight="bold" stroke="#000" stroke-width="0.25">@</text>
<polygon points="672.00,59.30 672.89,61.68 675.42,61.79 673.44,63.37 674.12,65.81 672.00,64.41 669.88,65.81 670.56,63.37 668.58,61.79 671.11,61.68" fill="#000"/>
<text x="672.00" y="74.12" font-size="8.2" text-anchor="middle" font-weight="bold" stroke="#000" stroke-width="0.25">@</text>
<polygon points="726.70,59.60 727.59,61.98 730.12,62.09 728.14,63.67 728.82,66.11 726.70,64.71 724.58,66.11 725.26,63.67 723.28,62.09 725.81,61.98" fill="#000"/>
<text x="726.50" y="74.42" font-size="8.2" text-anchor="middle" font-weight="bold" stroke="#000" stroke-width="0.25">@</text>
<path d="M737.10 66.10L738.10 59.90M739.50 66.10L740.50 59.90M736.70 61.80L740.90 61.80M736.70 64.30L740.90 64.30" stroke="#000" stroke-width="0.8" fill="none"/>
<polygon points="738.80,69.20 735.60,75.50 742.00,75.50" fill="#000"/>
<path d="M749.60 66.10L750.60 59.90M752.00 66.10L753.00 59.90M749.20 61.80L753.40 61.80M749.20 64.30L753.40 64.30" stroke="#000" stroke-width="0.8" fill="none"/>
<polygon points="751.30,69.20 748.10,75.50 754.50,75.50" fill="#000"/>
<rect x="0" y="0" width="781" height="2.2" fill="#000"/>
<rect x="0" y="0" width="2.2" height="313" fill="#000"/>
<rect x="778" y="0" width="3" height="313" fill="#000"/>
<rect x="0" y="310" width="781" height="3" fill="#000"/>
<rect x="389" y="0" width="3" height="313" fill="#000"/>
</svg></body></html>
